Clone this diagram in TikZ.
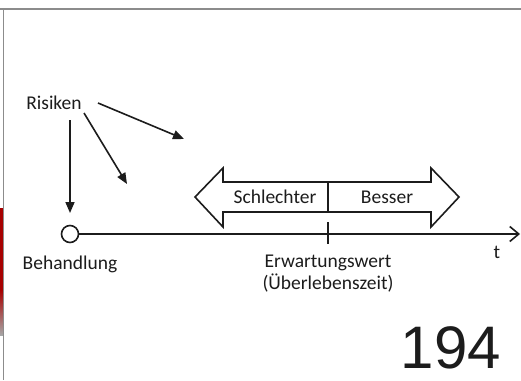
\documentclass[tikz,border=0pt]{standalone}
\usepackage{fontspec}
\setmainfont{Carlito}
\newfontfamily\numfont{Liberation Sans}
\usetikzlibrary{arrows.meta}
\definecolor{ink}{HTML}{1C1C1C}
\definecolor{frame}{HTML}{8C8C8C}
\begin{document}
\begin{tikzpicture}[x=1pt,y=-1pt,
  lbl/.style={font=\fontsize{19.5}{22}\selectfont, text=ink, inner sep=0pt},
  ln/.style={line width=1.6pt, draw=ink},
  riskarrow/.style={ln, -{Triangle[length=11pt,width=9pt]}}]
\useasboundingbox (0,0) rectangle (521,380);
\fill[white] (0,0) rectangle (521,380);
% slide frame
\fill[red!65!black] (0,208) rectangle (3,290);
\shade[top color=red!65!black, bottom color=black!35] (0,290) rectangle (3,335);
\draw[frame, line width=2pt] (0,8.5) -- (521,8.5);
\draw[frame, line width=1.6pt] (3.6,8.5) -- (3.6,380);
% labels
\node[lbl] (risiken) at (54,103) {Risiken};
\node[lbl, align=center] (erw) at (328,274) {Erwartungswert\\(Überlebenszeit)};
\node[lbl] (behandlung) at (70,264) {Behandlung};
\node[lbl] (t) at (497,252) {t};
\node[inner sep=0pt, text=ink, font=\fontsize{60}{60}\numfont] (num) at (451,348) {194};
% timeline
\node[circle, draw=ink, line width=1.6pt, minimum size=17pt, inner sep=0pt, fill=white] (start) at (70,234) {};
\coordinate (tend) at (520,234);
\draw[ln, -{Straight Barb[length=9pt,width=15pt,line width=1.6pt]}] (start) -- (tend);
\coordinate (tickT) at (328,222);
\coordinate (tickB) at (328,244);
\draw[ln] (tickT) -- (tickB);
% risk arrows
\coordinate (r1s) at (70,120);
\coordinate (r1e) at (70,213);
\coordinate (r2s) at (84,113);
\coordinate (r2e) at (127,184);
\coordinate (r3s) at (98,103);
\coordinate (r3e) at (184,139);
\draw[riskarrow] (r1s) -- (r1e);
\draw[riskarrow] (r2s) -- (r2e);
\draw[riskarrow] (r3s) -- (r3e);
% double arrow
\draw[ln, fill=white, line join=miter] (195,197) -- (223,168) -- (223,182) -- (431,182) -- (431,168) -- (459,197)
  -- (431,227) -- (431,212) -- (223,212) -- (223,227) -- cycle;
\coordinate (divT) at (328,182);
\coordinate (divB) at (328,212);
\draw[ln] (divT) -- (divB);
\node[lbl] (schlechter) at (275,197) {Schlechter};
\node[lbl] (besser) at (387,197) {Besser};
\end{tikzpicture}
\end{document}
